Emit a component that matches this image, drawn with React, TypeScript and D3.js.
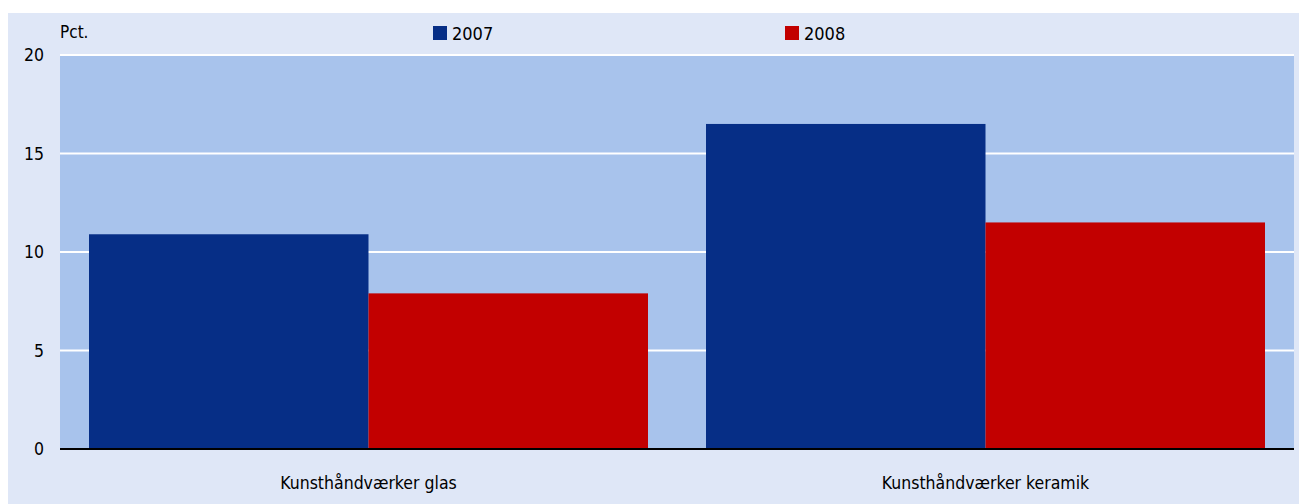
import React from "react";
import * as d3 from "d3";

const categories = ["Kunsthåndværker glas", "Kunsthåndværker keramik"];
const seriesNames = ["2007", "2008"];
const values2007 = [10.9, 16.5];
const values2008 = [7.9, 11.5];
const yTicks = [0, 5, 10, 15, 20];
const colors = ["#062e86", "#c20000"];

export default function App() {
  const W = 1299, H = 504;
  const left = 60, right = 1294, top = 55, bottom = 449;
  const x = d3.scaleBand<string>().domain(categories).range([left, right]).paddingInner(0.094).paddingOuter(0.047);
  const inner = d3.scaleBand<string>().domain(seriesNames).range([0, x.bandwidth()]).padding(0);
  const y = d3.scaleLinear().domain([0, 20]).range([bottom, top]);
  const series = [values2007, values2008];
  const font = "'Liberation Sans Narrow', 'DejaVu Sans Condensed', 'Liberation Sans', Arial, sans-serif";
  const legendX = [433, 785];
  return (
    <svg width={W} height={H} style={{ position: "absolute", left: 0, top: 0 }} fontFamily={font}>
      <rect x={8} y={13} width={W - 8} height={H - 13} fill="#dfe7f7" />
      <rect x={left} y={top} width={right - left} height={bottom - top} fill="#a8c3ec" />
      {yTicks.filter(t => t > 0).map(t => (
        <line key={t} x1={left} x2={right} y1={y(t)} y2={y(t)} stroke="#ffffff" strokeWidth={2} />
      ))}
      {yTicks.map(t => (
        <text key={t} x={44} y={y(t) + 6} textAnchor="end" fontSize={17.5} fill="#000">{t}</text>
      ))}
      {categories.map((c, i) =>
        seriesNames.map((s, j) => (
          <rect key={c + s} x={(x(c) as number) + (inner(s) as number)} y={y(series[j][i])}
            width={inner.bandwidth()} height={bottom - y(series[j][i])} fill={colors[j]} />
        ))
      )}
      <line x1={left} x2={right} y1={bottom} y2={bottom} stroke="#000" strokeWidth={2} />
      {categories.map(c => (
        <text key={c} x={(x(c) as number) + x.bandwidth() / 2} y={489} textAnchor="middle" fontSize={17.5} fill="#000">{c}</text>
      ))}
      <text x={60} y={38} fontSize={17} fill="#000">Pct.</text>
      {seriesNames.map((s, j) => (
        <g key={s}>
          <rect x={legendX[j]} y={26} width={14} height={14} fill={colors[j]} />
          <text x={legendX[j] + 19} y={40} fontSize={18} fill="#000">{s}</text>
        </g>
      ))}
    </svg>
  );
}
